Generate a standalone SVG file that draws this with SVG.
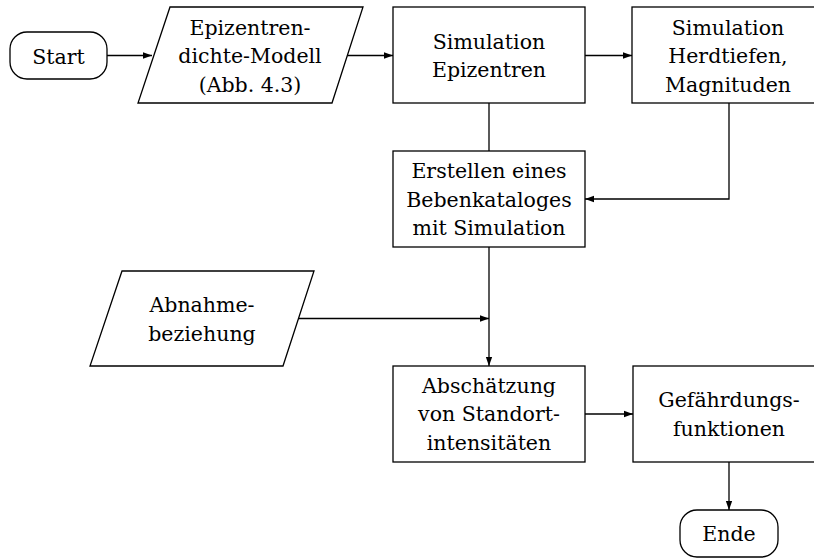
<svg xmlns="http://www.w3.org/2000/svg" width="814" height="558" viewBox="0 0 814 558">
<style>
.s{fill:#fff;stroke:#000;stroke-width:1.3}
.c{fill:none;stroke:#000;stroke-width:1.3}
.t{font-family:'DejaVu Serif',serif;font-size:20.5px;text-anchor:middle;fill:#000}
</style>
<defs>
<marker id="a" viewBox="0 0 10 10" refX="10" refY="5" markerWidth="9" markerHeight="9" markerUnits="userSpaceOnUse" orient="auto">
<path d="M0,1.5 L10,5 L0,8.5 Z" fill="#000"/>
</marker>
</defs>
<rect width="814" height="558" fill="#fff"/>
<g id="connectors">
<path class="c" d="M107,55.5 H152" marker-end="url(#a)"/>
<path class="c" d="M347,55.5 H393" marker-end="url(#a)"/>
<path class="c" d="M585,55.5 H632" marker-end="url(#a)"/>
<path class="c" d="M489,103 V151"/>
<path class="c" d="M729,103 V199 H585" marker-end="url(#a)"/>
<path class="c" d="M489,247 V366" marker-end="url(#a)"/>
<path class="c" d="M298,318.5 H489" marker-end="url(#a)"/>
<path class="c" d="M585,414 H633" marker-end="url(#a)"/>
<path class="c" d="M729,462 V510" marker-end="url(#a)"/>
</g>
<g id="start">
<rect class="s" x="10" y="32" width="97" height="47" rx="17"/>
<text class="t" x="58.5" y="63.5">Start</text>
</g>
<g id="epizentrendichte">
<path class="s" d="M170,7 H363 L332,103 H138 Z"/>
<text class="t" x="250" y="34.5">Epizentren-</text>
<text class="t" x="250" y="63">dichte-Modell</text>
<text class="t" x="250" y="91.5">(Abb. 4.3)</text>
</g>
<g id="simepi">
<rect class="s" x="393" y="7" width="192" height="96"/>
<text class="t" x="489" y="49">Simulation</text>
<text class="t" x="489" y="77">Epizentren</text>
</g>
<g id="simherd">
<rect class="s" x="632" y="7" width="192" height="96"/>
<text class="t" x="728" y="34.5">Simulation</text>
<text class="t" x="728" y="63">Herdtiefen,</text>
<text class="t" x="728" y="91.5">Magnituden</text>
</g>
<g id="katalog">
<rect class="s" x="393" y="151" width="192" height="96"/>
<text class="t" x="489" y="178">Erstellen eines</text>
<text class="t" x="489" y="207">Bebenkataloges</text>
<text class="t" x="489" y="235">mit Simulation</text>
</g>
<g id="abnahme">
<path class="s" d="M122,271 H314 L283,366 H90 Z"/>
<text class="t" x="202" y="312">Abnahme-</text>
<text class="t" x="202" y="341">beziehung</text>
</g>
<g id="abschaetzung">
<rect class="s" x="393" y="366" width="192" height="96"/>
<text class="t" x="489" y="393">Abschätzung</text>
<text class="t" x="489" y="421">von Standort-</text>
<text class="t" x="489" y="450">intensitäten</text>
</g>
<g id="gefaehrdung">
<rect class="s" x="633" y="366" width="192" height="96"/>
<text class="t" x="729" y="407">Gefährdungs-</text>
<text class="t" x="729" y="436">funktionen</text>
</g>
<g id="ende">
<rect class="s" x="680" y="510" width="98" height="47" rx="17"/>
<text class="t" x="729" y="541">Ende</text>
</g>
</svg>
